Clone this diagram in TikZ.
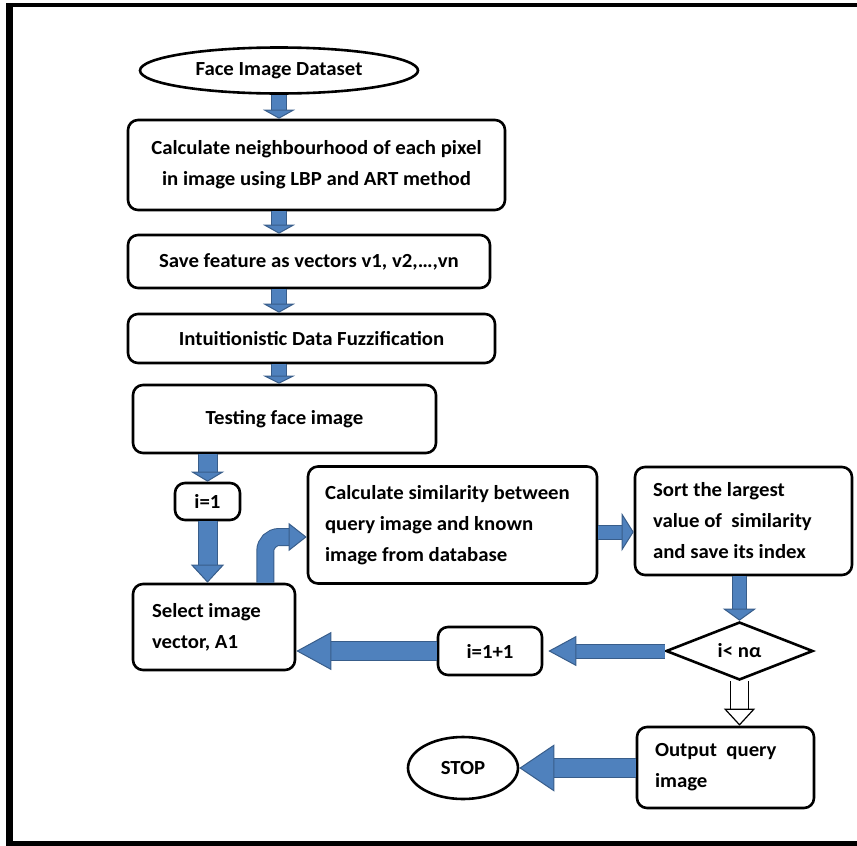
\documentclass[tikz,border=0pt]{standalone}
\usepackage{fontspec}
\setmainfont{Carlito}[FakeStretch=1.04]
\usetikzlibrary{positioning,arrows.meta,shapes.geometric,calc}
\definecolor{arrblue}{RGB}{79,129,189}
\definecolor{arrline}{RGB}{56,93,138}

\begin{document}
\begin{tikzpicture}[x=1pt, y=1pt,
  every node/.style={font=\bfseries\fontsize{20}{31}\selectfont},
  box/.style={draw, line width=2.6pt, rounded corners=10pt, align=center, inner sep=0pt},
  lbox/.style={box, align=flush left, text width=#1},
  term/.style={draw, ellipse, line width=2.6pt, inner sep=0pt},
  decide/.style={draw, diamond, line width=2.6pt, inner sep=0pt},
  blk/.style n args={3}{draw=arrline, line width=1pt, double=arrblue, double distance=#1,
    -{Triangle[length=#3, width=#2, line width=1pt, fill=arrblue, color=arrline]}},
  wblk/.style n args={3}{draw=black, line width=1.2pt, double=white, double distance=#1,
    -{Triangle[length=#3, width=#2, line width=1.2pt, fill=white, color=black]}}
]
\useasboundingbox (0,0) rectangle (857,-846);
% frame
\fill (6,-3) rectangle (857,-7);
\fill (6,-3) rectangle (13,-846);
\fill (6,-841) rectangle (857,-846);

% main column
\node[term, minimum width=278pt, minimum height=46pt] (start) at (279,-70.5) {Face Image Dataset};
\node[box, minimum width=377pt, minimum height=90pt] (calcnb) at (316.5,-165) {Calculate neighbourhood of each pixel\\in image using LBP and ART method};
\node[box, minimum width=362pt, minimum height=53pt] (save) at (309,-261.5) {Save feature as vectors v1, v2,\dots,vn};
\node[box, minimum width=367pt, minimum height=49pt] (fuzz) at (311.5,-338.5) {Intuitionistic Data Fuzzification};
\node[box, minimum width=303pt, minimum height=68pt] (test) at (284.5,-419) {Testing face image};

% loop
\node[lbox=124pt, minimum width=162pt, minimum height=86pt] (sel) at (214,-627) {Select image\\vector, A1};
\node[box, minimum width=65pt, minimum height=37pt] (init) at (207.5,-501.5) {i=1};
\node[lbox=255pt, minimum width=289pt, minimum height=117pt] (sim) at (452.5,-525) {Calculate similarity between\\query image and known\\image from database};
\node[lbox=181pt, minimum width=217pt, minimum height=108pt] (sort) at (743.5,-521) {Sort the largest\\value of\ \ similarity\\and save its index};
\node[decide, minimum width=147pt, minimum height=58pt] (cond) at (739.5,-651) {i< nα};
\node[box, minimum width=104pt, minimum height=48pt] (incr) at (490,-651) {i=1+1};

% exit
\node[lbox=141pt, minimum width=177pt, minimum height=81pt] (out) at (725.5,-767.5) {Output\ \ query\\image};
\node[term, minimum width=110pt, minimum height=62pt] (stop) at (463,-768) {STOP};

% arrows
\draw[blk={14pt}{32pt}{9pt}] (start.south) -- (start.south |- calcnb.north);
\draw[blk={14pt}{32pt}{9pt}] (calcnb.south -| start.south) -- (save.north -| start.south);
\draw[blk={14pt}{32pt}{9pt}] (save.south -| start.south) -- (fuzz.north -| start.south);
\draw[blk={14pt}{32pt}{8pt}] (fuzz.south -| start.south) -- (test.north -| start.south);
\draw[blk={18pt}{33pt}{10pt}] (test.south -| init.north) -- (init.north);
\draw[blk={18pt}{33pt}{18pt}] (init.south) -- (init.south |- sel.north);
\coordinate (bend) at ($(sel.north east)+(-31,0)$);
\coordinate (simin) at ($(sim.west)+(0,-12)$);
\draw[blk={16pt}{28pt}{18pt}, rounded corners=14pt] (bend) |- (simin);
\coordinate (simout) at ($(sim.east)+(0,-7)$);
\draw[blk={13pt}{38pt}{12pt}] (simout) -- (simout -| sort.west);
\draw[blk={13pt}{33pt}{12pt}] (sort.south -| cond.north) -- (cond.north);
\coordinate (incrin) at ($(incr.east)+(5,0)$);
\draw[blk={13pt}{30pt}{28pt}] (cond.west) -- (incrin);
\draw[blk={18pt}{38pt}{35pt}] (incr.west) -- (incr.west -| sel.east);
\draw[wblk={17pt}{31pt}{17pt}] (cond.south) -- (cond.south |- out.north);
\draw[blk={18pt}{47pt}{35pt}] (out.west |- stop.east) -- (stop.east);
\end{tikzpicture}
\end{document}
